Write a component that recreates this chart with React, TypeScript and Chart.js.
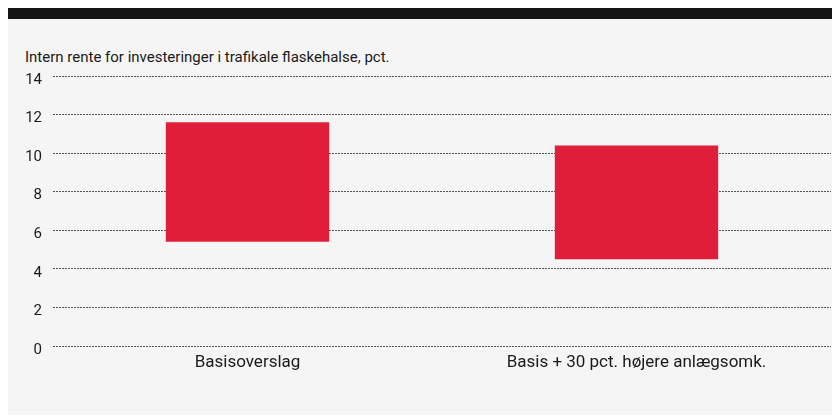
import React, { useEffect, useRef } from "react";
import { Chart, registerables } from "chart.js";

Chart.register(...registerables);

const categories: string[] = ["Basisoverslag", "Basis + 30 pct. højere anlægsomk."];
const lowValues: number[] = [5.4, 4.5];
const highValues: number[] = [11.6, 10.4];
const yTicks: number[] = [0, 2, 4, 6, 8, 10, 12, 14];
const title = "Intern rente for investeringer i trafikale flaskehalse, pct.";

const FONT = "Roboto";

export default function App() {
  const ref = useRef<HTMLCanvasElement | null>(null);

  useEffect(() => {
    document.body.style.overflow = "hidden";
    const canvas = ref.current;
    if (!canvas) return;
    const chart = new Chart(canvas, {
      type: "bar",
      data: {
        labels: categories,
        datasets: [
          {
            data: categories.map((_, i) => [lowValues[i], highValues[i]]) as any,
            backgroundColor: "#e01e39",
            borderWidth: 0,
            barPercentage: 0.42,
            categoryPercentage: 1,
          },
        ],
      },
      options: {
        animation: false,
        responsive: true,
        maintainAspectRatio: false,
        layout: { padding: { left: 0, right: 9, top: 57, bottom: 0 } },
        plugins: {
          legend: { display: false },
          tooltip: { enabled: false },
        },
        scales: {
          x: {
            grid: { display: false, drawTicks: false },
            border: { display: false },
            ticks: {
              color: "#1a1a1a",
              font: { family: FONT, size: 17 },
              padding: 7,
              maxRotation: 0,
            },
            afterFit: (s: any) => {
              s.height = 69;
            },
          },
          y: {
            min: 0,
            max: 14,
            afterBuildTicks: (s: any) => {
              s.ticks = yTicks.map((v) => ({ value: v }));
            },
            grid: {
              color: "#555",
              lineWidth: 1,
              drawTicks: false,
            },
            border: { display: false, dash: [2, 1] },
            ticks: {
              color: "#1a1a1a",
              font: { family: FONT, size: 15 },
              padding: 11,
              labelOffset: 4,
            },
            afterFit: (s: any) => {
              s.width = 45;
            },
          },
        },
      },
    });
    return () => chart.destroy();
  }, []);

  return (
    <div
      style={{
        position: "relative",
        width: 832,
        height: 396,
        background: "#f5f5f5",
        borderTop: "11px solid #141414",
      }}
    >
      <div
        style={{
          position: "absolute",
          left: 17,
          top: 29,
          fontFamily: FONT,
          fontSize: 15,
          color: "#1a1a1a",
          whiteSpace: "nowrap",
          lineHeight: "18px",
        }}
      >
        {title}
      </div>
      <div style={{ position: "absolute", left: 0, top: 0, width: 832, height: 396 }}>
        <canvas ref={ref} />
      </div>
    </div>
  );
}
